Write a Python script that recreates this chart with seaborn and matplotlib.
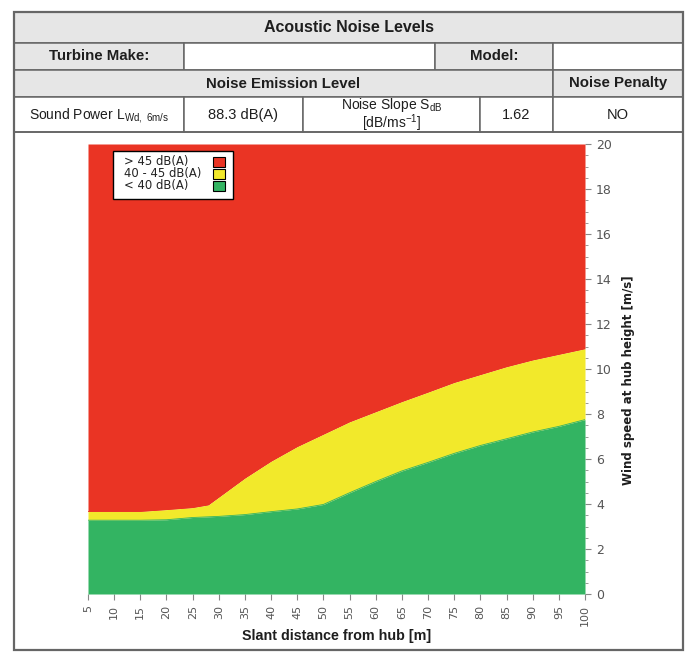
import numpy as np
import pandas as pd
import matplotlib
matplotlib.use("Agg")
import matplotlib.pyplot as plt
import seaborn as sns
from matplotlib.patches import Rectangle
from matplotlib.ticker import MultipleLocator

# ============================================================
# DATA
# ============================================================
distance = [5, 10, 15, 20, 25, 28, 30, 35, 40, 45, 50, 55, 60, 65, 70, 75, 80, 85, 90, 95, 100]
upper_45 = [3.67, 3.67, 3.67, 3.75, 3.84, 3.96, 4.30, 5.15, 5.90, 6.55, 7.10, 7.65, 8.10, 8.55,
            8.97, 9.40, 9.75, 10.10, 10.40, 10.65, 10.90]
lower_40 = [3.28, 3.28, 3.28, 3.30, 3.40, 3.43, 3.45, 3.53, 3.66, 3.78, 3.98, 4.50, 5.00, 5.47,
            5.85, 6.25, 6.60, 6.90, 7.20, 7.45, 7.75]

zone_labels = ["> 45 dB(A)", "40 - 45 dB(A)", "< 40 dB(A)"]
zone_colors = ["#ea3424", "#f2e92b", "#33b462"]

x_ticks = list(range(5, 101, 5))
y_ticks = list(range(0, 21, 2))

table_title = "Acoustic Noise Levels"
sound_power = "88.3 dB(A)"
noise_slope = "1.62"
noise_penalty = "NO"

df = pd.DataFrame({"distance": distance, "upper": upper_45, "lower": lower_40})

# ============================================================
# FIGURE
# ============================================================
sns.set_theme(style="ticks")
plt.rcParams["font.family"] = ["Liberation Sans", "DejaVu Sans"]
plt.rcParams["mathtext.fontset"] = "custom"
plt.rcParams["mathtext.rm"] = "Liberation Sans"

W, H = 686, 655
fig = plt.figure(figsize=(W / 100, H / 100), dpi=100)

# background axes in pixel coords for the table frame
bg = fig.add_axes([0, 0, 1, 1])
bg.set_xlim(0, W)
bg.set_ylim(H, 0)
bg.axis("off")

line_c = "#666666"
gray = "#e6e6e6"
txt_c = "#1e1e1e"

def cell(x0, x1, y0, y1, fill="white"):
    bg.add_patch(Rectangle((x0, y0), x1 - x0, y1 - y0, facecolor=fill,
                           edgecolor=line_c, linewidth=1.1))

L, R = 14, 683
rows = [12, 43, 70, 97, 132]

cell(L, R, rows[0], rows[1], gray)
cell(L, 184, rows[1], rows[2], gray)
cell(184, 435, rows[1], rows[2])
cell(435, 553, rows[1], rows[2], gray)
cell(553, R, rows[1], rows[2])
cell(L, 553, rows[2], rows[3], gray)
cell(553, R, rows[2], rows[3], gray)
for a, b in [(L, 184), (184, 303), (303, 480), (480, 553), (553, R)]:
    cell(a, b, rows[3], rows[4])
# outer box round the chart
bg.add_patch(Rectangle((L, rows[4]), R - L, 650 - rows[4], facecolor="none",
                       edgecolor=line_c, linewidth=1.2))
bg.add_patch(Rectangle((L, rows[0]), R - L, 650 - rows[0], facecolor="none",
                       edgecolor=line_c, linewidth=1.6))

def ctext(x, y, s, bold=False, size=10, **kw):
    bg.text(x, y, s, ha="center", va="center", fontsize=size, color=txt_c,
            fontweight="bold" if bold else "normal", **kw)

ctext((L + R) / 2, 27.5, table_title, bold=True, size=11.5)
ctext((L + 184) / 2, 56.5, "Turbine Make:", bold=True, size=10.8)
ctext((435 + 553) / 2, 56.5, "Model:", bold=True, size=10.8)
ctext((L + 553) / 2, 83.5, "Noise Emission Level", bold=True, size=10.8)
ctext((553 + R) / 2, 83.5, "Noise Penalty", bold=True, size=10.8)
ctext((L + 184) / 2, 115, r"Sound Power L$_{\mathregular{Wd,\ 6m/s}}$", size=10)
ctext((184 + 303) / 2, 115, sound_power, size=10.5)
ctext((303 + 480) / 2, 115, "Noise Slope S$_{\\mathregular{dB}}$\n[dB/ms$^{\\mathregular{-1}}$]",
      size=10, linespacing=0.95)
ctext((480 + 553) / 2, 115, noise_slope, size=10.5)
ctext((553 + R) / 2, 115, noise_penalty, size=10.5)

# ============================================================
# NOISE ZONE CHART
# ============================================================
ax = fig.add_axes([88 / W, 1 - 594 / H, (585 - 88) / W, (594 - 144) / H])
ax.fill_between(df["distance"], df["upper"], 20, color=zone_colors[0], linewidth=0)
ax.fill_between(df["distance"], df["lower"], df["upper"], color=zone_colors[1], linewidth=0)
ax.fill_between(df["distance"], 0, df["lower"], color=zone_colors[2], linewidth=0)
sns.lineplot(data=df, x="distance", y="upper", ax=ax, color=zone_colors[0], linewidth=0.6)
sns.lineplot(data=df, x="distance", y="lower", ax=ax, color=zone_colors[2], linewidth=0.6)

ax.set_xlim(5, 100)
ax.set_ylim(0, 20)
ax.set_xticks(x_ticks)
ax.set_xticklabels([str(t) for t in x_ticks], rotation=90, fontsize=8, color="#555555",
                   family="DejaVu Sans")
ax.yaxis.tick_right()
ax.yaxis.set_label_position("right")
ax.set_yticks(y_ticks)
ax.set_yticklabels([str(t) for t in y_ticks], fontsize=9, color="#555555", family="DejaVu Sans")
ax.yaxis.set_minor_locator(MultipleLocator(0.5))
ax.tick_params(axis="both", which="major", length=4, width=0.8, color="#888888", pad=4)
ax.tick_params(axis="y", which="minor", length=2.5, width=0.6, color="#888888")
for s in ax.spines.values():
    s.set_visible(False)

ax.set_xlabel("Slant distance from hub [m]", fontsize=10.3, fontweight="bold", color=txt_c)
ax.xaxis.set_label_coords(0.5, -(629 - 594) / 450)
ax.set_ylabel("Wind speed at hub height [m/s]", fontsize=8.5, fontweight="bold", color=txt_c,
              family="DejaVu Sans")
ax.yaxis.set_label_coords((622 - 88) / 497, (594 - 380) / 450)

# legend drawn in pixel coords (text left, colour box right)
ov = fig.add_axes([0, 0, 1, 1])
ov.set_xlim(0, W)
ov.set_ylim(H, 0)
ov.axis("off")
ov.patch.set_alpha(0)
ov.add_patch(Rectangle((113, 151), 120, 48, facecolor="white", edgecolor="black", linewidth=1.0))
for i, (lab, col) in enumerate(zip(zone_labels, zone_colors)):
    yy = 162 + i * 12
    ov.text(124, yy, lab, ha="left", va="center", fontsize=8.4, color="#222222",
            family="DejaVu Sans")
    ov.add_patch(Rectangle((213, yy - 4.8), 12, 9.6, facecolor=col, edgecolor="black",
                           linewidth=0.8))

fig.savefig("out.png", dpi=100)
